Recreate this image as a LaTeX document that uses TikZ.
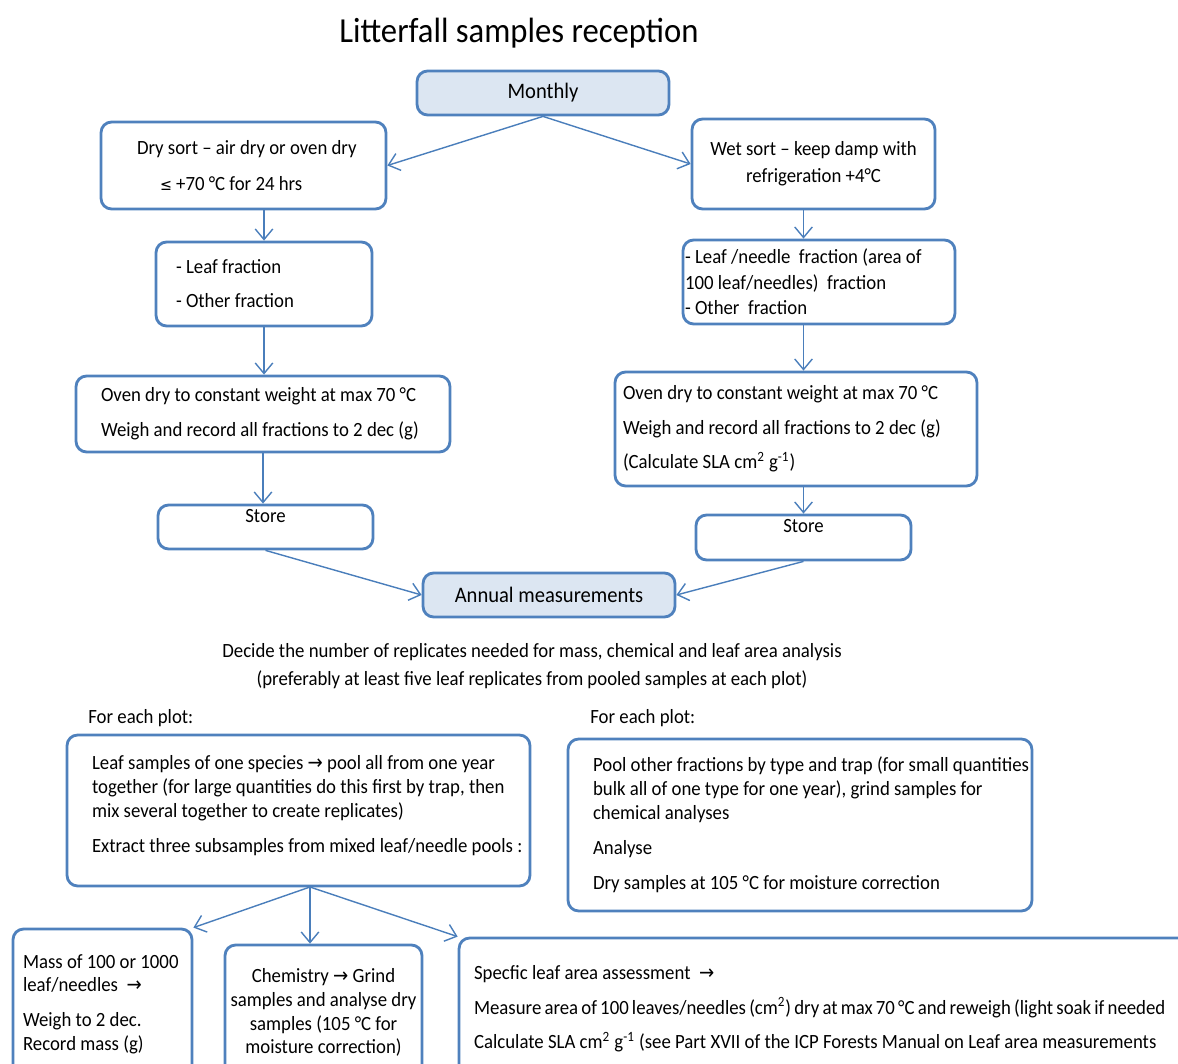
\documentclass[tikz,border=0pt]{standalone}
\usepackage{fontspec}
\setmainfont{Carlito}[FakeStretch=0.93]
\newfontfamily\symfont{DejaVu Sans}[FakeStretch=0.9]
\usetikzlibrary{arrows.meta}
\definecolor{boxblue}{HTML}{4F81BD}
\definecolor{keyfill}{HTML}{DCE6F2}
\definecolor{lineblue}{HTML}{4A7EBB}
\newcommand{\txt}{\fontsize{11.5pt}{13.6pt}\selectfont}
\newcommand{\keytxt}{\fontsize{12.6pt}{14pt}\selectfont}
\newcommand{\arr}{{\symfont →}}
\newcommand{\lesseq}{{\symfont\small ≤}}

\tikzset{
  box/.style={draw=boxblue, line width=1.6pt, rounded corners=6pt, fill=white, inner ysep=0pt, font=\txt},
  keybox/.style={box, fill=keyfill, align=center, inner xsep=0pt, font=\keytxt},
  flow/.style={draw=lineblue, line width=0.8pt, -{Straight Barb[length=6pt,width=10pt]}},
}

\begin{document}
\begin{tikzpicture}[x=0.02cm, y=-0.02cm]
    \useasboundingbox (0,0) rectangle (1178,1064);
    \clip (0,0) rectangle (1178,1064);

    \node [font=\fontsize{20pt}{24pt}\selectfont] (title) at (519,33) {Litterfall samples reception};

    \node [keybox, minimum width=5.04cm, minimum height=0.88cm] (monthly) at (543,93) {Monthly};

    \node [box, align=flush left, text width=4.26cm, inner xsep=0.72cm, minimum height=1.74cm] (dry) at (243.5,165.5)
        {\mbox{Dry sort – air dry or oven dry}\\[6.8pt]\hspace*{0.46cm}\lesseq{} +70 °C for 24 hrs};
    \node [box, align=center, inner xsep=0pt, minimum width=4.86cm, minimum height=1.8cm] (wet) at (813.5,164)
        {Wet sort – keep damp with\\[1.7pt]refrigeration +4°C};

    \node [box, align=flush left, text width=3.52cm, inner xsep=0.4cm, minimum height=1.68cm] (leaffr) at (264,284)
        {- Leaf fraction\\[5.7pt]- Other fraction};
    \node [box, align=flush left, text width=5.36cm, inner xsep=0.04cm, minimum height=1.68cm] (needle) at (819,282)
        {- Leaf /needle\ \ fraction (area of\\[0.9pt]100 leaf/needles)\ \ fraction\\[0.9pt]- Other\ \ fraction};

    \node [box, align=flush left, text width=6.48cm, inner xsep=0.5cm, minimum height=1.52cm] (ovenL) at (263,414)
        {Oven dry to constant weight at max 70 °C\\[6.3pt]Weigh and record all fractions to 2 dec (g)};
    \node [box, align=flush left, text width=6.92cm, inner xsep=0.16cm, minimum height=2.28cm] (ovenR) at (796,429)
        {Oven dry to constant weight at max 70 °C\\[6pt]Weigh and record all fractions to 2 dec (g)\\[6pt](Calculate SLA cm\textsuperscript{2} g\textsuperscript{-1})};

    \node [box, minimum width=4.3cm, text height=0.34cm, text depth=0.54cm] (storeL) at (265.5,527) {Store};
    \node [box, minimum width=4.3cm, text height=0.34cm, text depth=0.56cm] (storeR) at (803.5,537.5) {Store};

    \node [keybox, minimum width=5.04cm, minimum height=0.88cm] (annual) at (549,595) {Annual measurements};

    \node [font=\txt, align=center] (decide) at (532,666)
        {Decide the number\ of replicates needed for mass, chemical and leaf area analysis\\[2.3pt](preferably at least five leaf replicates from pooled samples\ at each plot)};

    \node [font=\txt, anchor=west, inner sep=0pt] (plotL) at (88,718) {For each plot:};
    \node [font=\txt, anchor=west, inner sep=0pt] (plotR) at (590,718) {For each plot:};

    \node [box, align=flush left, text width=8.26cm, inner xsep=0.5cm, minimum height=3.02cm] (leafpool) at (298.5,810.5)
        {Leaf samples of one species \arr{} pool all from one year\\together (for large quantities do this first by trap, then\\mix several together to create replicates)\\[6.3pt]\mbox{Extract three subsamples\ from\ mixed leaf/needle\ pools :}\\[-6pt]\mbox{}};
    \node [box, align=flush left, text width=8.28cm, inner xsep=0.5cm, minimum height=3.44cm] (otherpool) at (800,825)
        {\mbox{Pool other fractions by type and trap (for small quantities}\\bulk all of one type for one year), grind samples\ for\\chemical analyses\\[6.3pt]Analyse\\[6.3pt]Dry samples at 105 °C for moisture correction};

    \node [box, align=flush left, text width=3.18cm, inner xsep=0.2cm, minimum height=3cm] (mass) at (102.5,1004)
        {Mass of 100 or 1000\\leaf/needles\ \ \arr\\[6pt]Weigh to 2 dec.\\Record mass (g)};
    \node [box, align=center, inner xsep=0pt, minimum width=3.94cm, minimum height=2.7cm] (chem) at (323.5,1012.5)
        {Chemistry \arr{} Grind\\samples and analyse dry\\samples (105 °C for\\moisture correction)};
    \node [box, align=flush left, text width=14.22cm, inner xsep=0.3cm, minimum height=2.84cm] (sla) at (829.5,1009)
        {Specfic leaf area assessment\ \ \arr\\[6pt]\mbox{\spaceskip=0.75\fontdimen2\font Measure area of 100 leaves/needles (cm\textsuperscript{2}) dry at max 70 °C and reweigh (light soak if needed}\\[6pt]Calculate SLA cm\textsuperscript{2} g\textsuperscript{-1} (see Part XVII of the ICP Forests\ Manual on Leaf area measurements};

    \draw [flow] (monthly.south) -- (dry.east);
    \draw [flow] (monthly.south) -- (wet.west);
    \draw [flow] (leaffr.north |- dry.south) -- (leaffr.north);
    \draw [flow] (leaffr.south) -- (leaffr.south |- ovenL.north);
    \draw [flow] (ovenL.south) -- (ovenL.south |- storeL.north);
    \draw [flow] (storeL.south) -- (annual.west);
    \draw [flow] (storeR.north |- wet.south) -- (storeR.north |- needle.north);
    \draw [flow] (storeR.north |- needle.south) -- (storeR.north |- ovenR.north);
    \draw [flow] (storeR.north |- ovenR.south) -- (storeR.north);
    \draw [flow] (storeR.south) -- (annual.east);

    \coordinate (fork) at (310,887);
    \draw [flow] (fork) -- (mass.north east);
    \draw [flow] (fork) -- (fork |- chem.north);
    \draw [flow] (fork) -- (sla.north west);
\end{tikzpicture}
\end{document}
